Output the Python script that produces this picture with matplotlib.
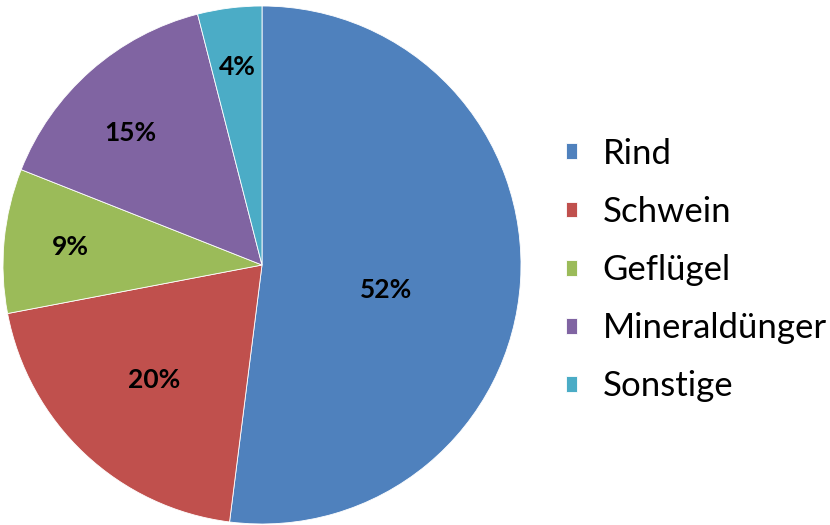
import matplotlib.pyplot as plt
import numpy as np

plt.rcParams['font.family'] = ['Lato', 'DejaVu Sans']

labels = ['Rind', 'Schwein', 'Geflügel', 'Mineraldünger', 'Sonstige']
shares = [52, 20, 9, 15, 4]
colors = ['#4F81BD', '#C0504D', '#9BBB59', '#8064A2', '#4BACC6']

# radial distance and angle shift (deg) of each percent label
lab_dist = [0.49, 0.61, 0.745, 0.72, 0.77]
lab_shift = [-7.8, 0, 0, 3.5, 0]

fig = plt.figure(figsize=(8.3, 5.25), dpi=100)
ax = fig.add_axes([3/830, 1/525, 518/830, 518/525])

wedges, texts, autotexts = ax.pie(shares, colors=colors, startangle=90, counterclock=False,
	autopct='%d%%', pctdistance=0.6, radius=1.0,
	wedgeprops=dict(linewidth=0.6, edgecolor='white'),
	textprops=dict(fontsize=19, fontweight='bold', color='black'))

for w, t, d, s in zip(wedges, autotexts, lab_dist, lab_shift):
	ang = np.deg2rad((w.theta1 + w.theta2) / 2 + s)
	t.set_position((d*np.cos(ang), d*np.sin(ang)))

ax.set_xlim(-1, 1)
ax.set_ylim(-1, 1)
ax.set_aspect('equal')

leg = fig.legend(wedges, labels, loc='center left', bbox_to_anchor=(566/830, 1-270/525),
	frameon=False, fontsize=25, handlelength=0.33, handleheight=0.33,
	labelspacing=0.75, handletextpad=0.72, borderpad=0, borderaxespad=0)

fig.savefig('out.png')
